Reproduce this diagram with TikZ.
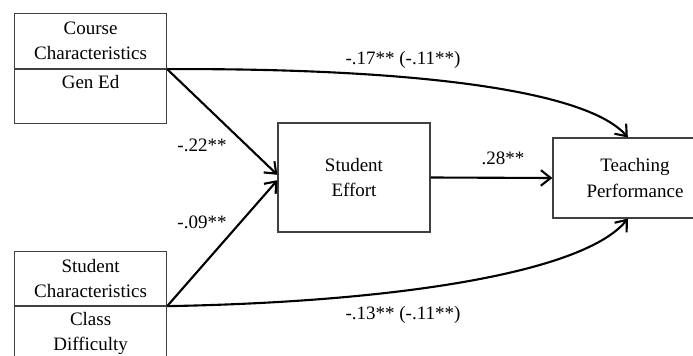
\documentclass[tikz,border=0pt]{standalone}
\usepackage{fontspec}
\setmainfont{Liberation Serif}
\usetikzlibrary{positioning}
\usetikzlibrary{arrows.meta}

\begin{document}
\begin{tikzpicture}[x=0.025cm,y=-0.025cm,
  txt/.style={font=\fontsize{13.5}{17.8}\selectfont,align=center},
  box/.style={txt,rectangle,draw=black!75,line width=0.8pt,inner sep=0pt},
  path/.style={line width=1.5pt,-{Straight Barb[length=7pt,width=11pt]}},
  coef/.style={font=\fontsize{13.5}{15}\selectfont}]
\clip (0,0) rectangle (693,356);
% predictors on the left
\node[box,anchor=north west,minimum width=3.8cm,minimum height=1.375cm] (course) at (14,13) {Course\\Characteristics};
\node[box,anchor=north west,minimum width=3.8cm,minimum height=1.35cm] (gened) at (course.south west) {};
\node[txt,below=0.04cm of gened.north] (gentxt) {Gen Ed};
\node[box,anchor=north west,minimum width=3.8cm,minimum height=1.35cm] (studchar) at (14,251) {Student\\Characteristics};
\node[box,anchor=north west,minimum width=3.8cm,minimum height=1.9cm] (classdiff) at (studchar.south west) {};
\node[txt,below=0.04cm of classdiff.north] (classtxt) {Class\\Difficulty};
% mediator and outcome
\node[box,minimum width=3.8cm,minimum height=2.725cm] (effort) at (354,177.5) {Student\\Effort};
\node[box,minimum width=4.1cm,minimum height=2cm] (teach) at (635,178) {Teaching\\Performance};
% paths
\draw[path] (gened.north east) -- (effort.178);
\draw[path] (classdiff.north east) -- (effort.182);
\draw[path] (effort.east) -- (teach.west);
\draw[path] (gened.north east) .. controls (400,68) and (585,88) .. (teach.100);
\draw[path] (classdiff.north east) .. controls (400,302) and (585,272) .. (teach.260);
% coefficients
\node[coef] (c17) at (403,60) {-.17** (-.11**)};
\node[coef] (c22) at (202,145) {-.22**};
\node[coef] (c09) at (202,222) {-.09**};
\node[coef] (c28) at (503,158) {.28**};
\node[coef] (c13) at (403,315) {-.13** (-.11**)};
\end{tikzpicture}
\end{document}
